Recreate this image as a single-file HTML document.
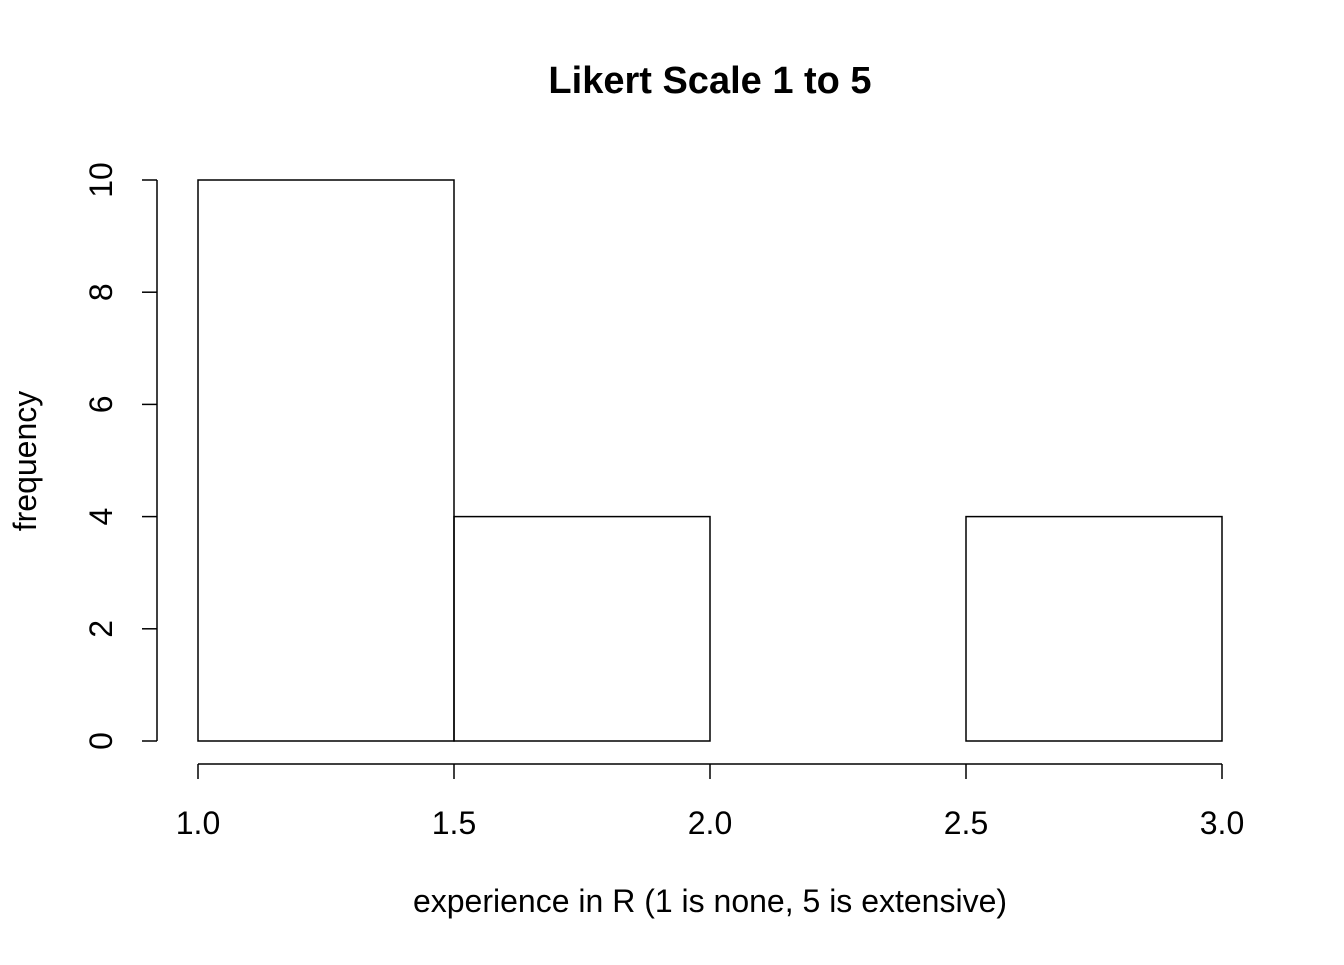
<!DOCTYPE html>
<html><head><meta charset="utf-8"><style>
body{margin:0;background:#fff}
svg text{font-family:"Liberation Sans",Arial,sans-serif;fill:#000}
</style></head><body>
<svg id="chart" width="1344" height="960">
<text x="710" y="93" font-size="38" font-weight="bold" text-anchor="middle">Likert Scale 1 to 5</text>
<text x="710" y="912" font-size="32" text-anchor="middle">experience in R (1 is none, 5 is extensive)</text>
<text transform="translate(36,461) rotate(-90)" font-size="32" text-anchor="middle">frequency</text>
<g id="bars"></g><g id="xaxis"></g><g id="yaxis"></g>
</svg>
<script>
const binStarts=[1.0,1.5,2.0,2.5];
const binEnds=[1.5,2.0,2.5,3.0];
const counts=[10,4,0,4];
const xTicks=[1.0,1.5,2.0,2.5,3.0];
const xTickLabels=["1.0","1.5","2.0","2.5","3.0"];
const yTicks=[0,2,4,6,8,10];
const yTickLabels=["0","2","4","6","8","10"];
const NS="http://www.w3.org/2000/svg";
const sx=v=>198+(v-1)*512;
const sy=v=>741-v*56.1;
function mk(tag,attrs,parent){const e=document.createElementNS(NS,tag);for(const k in attrs)e.setAttribute(k,attrs[k]);parent.appendChild(e);return e;}
const bars=document.getElementById('bars');
counts.forEach((c,i)=>{
 if(c<=0)return;
 const r=mk('rect',{x:sx(binStarts[i]),y:sy(c),width:sx(binEnds[i])-sx(binStarts[i]),height:sy(0)-sy(c),fill:'none',stroke:'#000','stroke-width':1.5},bars);
 
 
});
const xa=document.getElementById('xaxis');
mk('line',{x1:sx(xTicks[0]),x2:sx(xTicks[xTicks.length-1]),y1:764,y2:764,stroke:'#000','stroke-width':1.5},xa);
xTicks.forEach((t,i)=>{
 mk('line',{x1:sx(t),x2:sx(t),y1:764,y2:779,stroke:'#000','stroke-width':1.5},xa);
 const tx=mk('text',{x:sx(t),y:834,'font-size':32,'text-anchor':'middle'},xa);
 tx.textContent=xTickLabels[i];
 
 
});
const ya=document.getElementById('yaxis');
mk('line',{x1:157,x2:157,y1:sy(yTicks[0]),y2:sy(yTicks[yTicks.length-1]),stroke:'#000','stroke-width':1.5},ya);
yTicks.forEach((t,i)=>{
 mk('line',{x1:142,x2:157,y1:sy(t),y2:sy(t),stroke:'#000','stroke-width':1.5},ya);
 const tx=mk('text',{transform:`translate(112,${sy(t)}) rotate(-90)`,'font-size':32,'text-anchor':'middle'},ya);
 tx.textContent=yTickLabels[i];
 
 
});
</script>
</body></html>
